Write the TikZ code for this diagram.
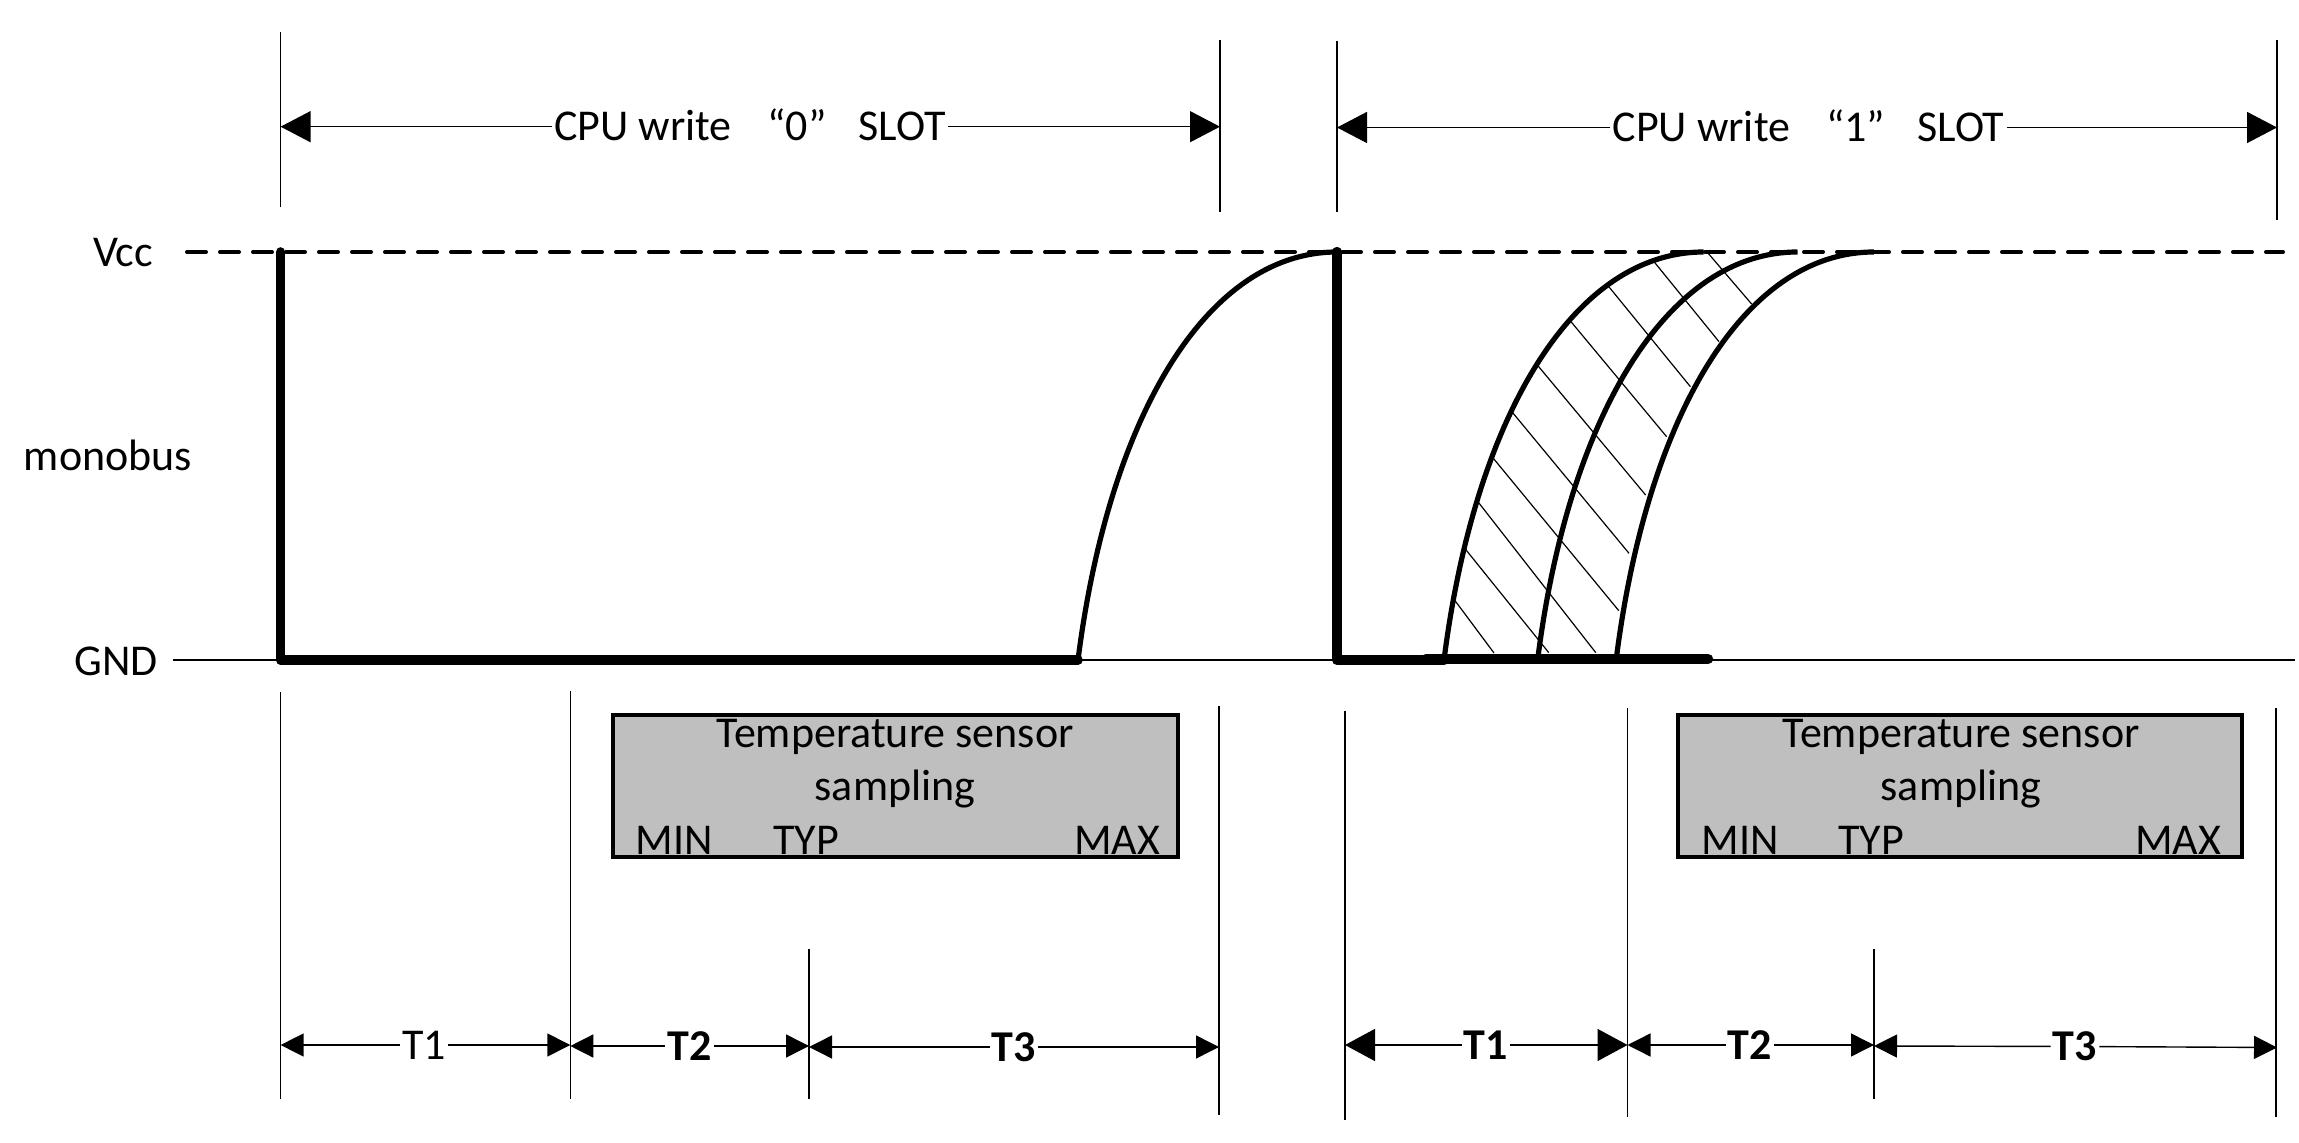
\documentclass[tikz,border=0pt]{standalone}
\usepackage{fontspec}
\setmainfont{Carlito}
\usetikzlibrary{arrows.meta}

\begin{document}
\begin{tikzpicture}[x=0.5pt,y=-0.5pt]
	\tikzset{every node/.style={font=\fontsize{22pt}{25pt}\selectfont,inner sep=1pt}}
	\tikzset{caplabel/.style={text height=14.2pt,text depth=0pt}}
	\tikzset{baselabel/.style={anchor=base,inner sep=0pt}}
	\tikzset{boldlabel/.style={caplabel,font=\fontsize{22pt}{25pt}\selectfont\bfseries}}
	\tikzset{rule/.style={line width=0.6pt}}
	\tikzset{slotarrow/.style={line width=0.7pt,-{Triangle[length=15pt,width=15.5pt]}}}
	\tikzset{dimsmall/.style={line width=0.7pt,-{Triangle[length=11.5pt,width=11.5pt]}}}
	\tikzset{dimlarge/.style={line width=0.7pt,-{Triangle[length=15pt,width=16pt]}}}
	\tikzset{busline/.style={line width=4.8pt,line cap=round,line join=round}}
	\tikzset{riseline/.style={line width=2.6pt}}
	\tikzset{samplebox/.style={draw,line width=2pt,fill=black!25,inner sep=0pt}}
	\useasboundingbox (0,0) rectangle (2299,1143);
	% rails
	\draw[line width=2pt,line cap=round,dash pattern=on 9.5pt off 7pt] (187,252) -- (2283,252);
	\draw[rule] (173,660) -- (2295,660);
	\node[caplabel] (vcc) at (123,252) {Vcc};
	\node[caplabel] (monobus) at (108,456) {monobus};
	\node[caplabel] (gnd) at (116,661) {GND};
	% guide lines
	\foreach \x/\ya/\yb in {280.6/32/207,1220/40/212,1337/41/212,2277/40/220,280.6/692/1099,570.3/691/1099,809/949/1099,1219/706/1115,1345/711/1120,1627.5/708/1117,1874/949/1099,2276/708/1117}
		\draw[rule] (\x,\ya) -- (\x,\yb);
	% write slots
	\coordinate (zeroleft) at (280.6,126.7);
	\coordinate (zeroright) at (1220,126.7);
	\coordinate (oneleft) at (1337,127.5);
	\coordinate (oneright) at (2277,127.5);
	\node[caplabel] (cpuzero) at (750,126.7) {CPU write\hspace{18pt}“0”\hspace{16pt}SLOT};
	\node[caplabel] (cpuone) at (1808.6,127.5) {CPU write\hspace{18pt}“1”\hspace{16pt}SLOT};
	\draw[slotarrow] (cpuzero) -- (zeroleft);
	\draw[slotarrow] (cpuzero) -- (zeroright);
	\draw[slotarrow] (cpuone) -- (oneleft);
	\draw[slotarrow] (cpuone) -- (oneright);
	% bus levels
	\coordinate (zerohigh) at (280.6,252);
	\coordinate (zerolow) at (280.6,660);
	\coordinate (zeroend) at (1078,660);
	\coordinate (zerotop) at (1337,252);
	\coordinate (onehigh) at (1337,252);
	\coordinate (onelow) at (1337,660);
	\coordinate (onemid) at (1444,660);
	\coordinate (onefrom) at (1426,659);
	\coordinate (oneend) at (1708,659);
	\coordinate (riseb) at (1538,657);
	\coordinate (risec) at (1616.5,657);
	\coordinate (topa) at (1703.7,252);
	\coordinate (topb) at (1797.5,252);
	\coordinate (topc) at (1874,252);
	% hatching
	\foreach \xa/\ya/\xb/\yb in {1453/598/1494/653,1463.4/546.7/1548.8/652.7,1476/499.3/1595.8/652.7,1491.4/456/1618.8/610.7,1511/410.7/1629/553.3,1537.3/365/1645.6/495,1571/321.7/1666.6/436.7,1608.8/286.7/1690.4/386.7,1654/261.7/1719/341.7,1706.8/251.7/1751.6/304}
		\draw[rule] (\xa,\ya) -- (\xb,\yb);
	\draw[riseline] (zeroend) .. controls +(31,-244) and +(-130,0) .. (zerotop);
	\draw[riseline] (onemid) .. controls +(31,-244) and +(-130,0) .. (topa);
	\draw[riseline] (riseb) .. controls +(31,-241) and +(-130,0) .. (topb);
	\draw[riseline] (risec) .. controls +(31,-241) and +(-130,0) .. (topc);
	\draw[busline] (zerohigh) -- (zerolow) -- (zeroend);
	\draw[busline,line width=5.2pt] (onehigh) -- (onelow) -- (onemid);
	\draw[busline,line width=5.2pt] (onefrom) -- (oneend);
	% sampling boxes
	\node[samplebox,minimum width=282.6pt,minimum height=71pt] (boxzero) at (895.3,786) {};
	\node[samplebox,minimum width=281.8pt,minimum height=71pt] (boxone) at (1959.8,786) {};
	\node[baselabel] (tempzero) at (895,748) {Temperature sensor};
	\node[baselabel] (sampzero) at (895,801) {sampling};
	\node[baselabel] (minzero) at (674,855) {MIN};
	\node[baselabel] (typzero) at (806,855) {TYP};
	\node[baselabel] (maxzero) at (1117,855) {MAX};
	\node[baselabel] (tempone) at (1961,748) {Temperature sensor};
	\node[baselabel] (sampone) at (1961,801) {sampling};
	\node[baselabel] (minone) at (1740,855) {MIN};
	\node[baselabel] (typone) at (1871,855) {TYP};
	\node[baselabel] (maxone) at (2178,855) {MAX};
	% lower timings
	\coordinate (azero) at (280.6,1045);
	\coordinate (bzero) at (570.3,1045);
	\coordinate (czero) at (570.3,1046);
	\coordinate (dzero) at (809,1046);
	\coordinate (ezero) at (809,1047);
	\coordinate (fzero) at (1219,1047);
	\coordinate (aone) at (1345,1045);
	\coordinate (bone) at (1627.5,1045);
	\coordinate (cone) at (1627.5,1045);
	\coordinate (done) at (1874,1045);
	\coordinate (eone) at (1874,1046);
	\coordinate (fone) at (2277,1047.5);
	\node[caplabel] (tonezero) at (424,1045) {T1};
	\node[boldlabel] (ttwozero) at (689.6,1046) {T2};
	\node[boldlabel] (tthreezero) at (1014,1047) {T3};
	\node[boldlabel] (toneone) at (1486,1045) {T1};
	\node[boldlabel] (ttwoone) at (1750,1045) {T2};
	\node[boldlabel] (tthreeone) at (2075,1046.5) {T3};
	\draw[dimsmall] (tonezero) -- (azero);
	\draw[dimsmall] (tonezero) -- (bzero);
	\draw[dimsmall] (ttwozero) -- (czero);
	\draw[dimsmall] (ttwozero) -- (dzero);
	\draw[dimsmall] (tthreezero) -- (ezero);
	\draw[dimsmall] (tthreezero) -- (fzero);
	\draw[dimlarge] (toneone) -- (aone);
	\draw[dimlarge] (toneone) -- (bone);
	\draw[dimsmall] (ttwoone) -- (cone);
	\draw[dimsmall] (ttwoone) -- (done);
	\draw[dimsmall] (tthreeone) -- (eone);
	\draw[dimsmall] (tthreeone) -- (fone);
\end{tikzpicture}
\end{document}
